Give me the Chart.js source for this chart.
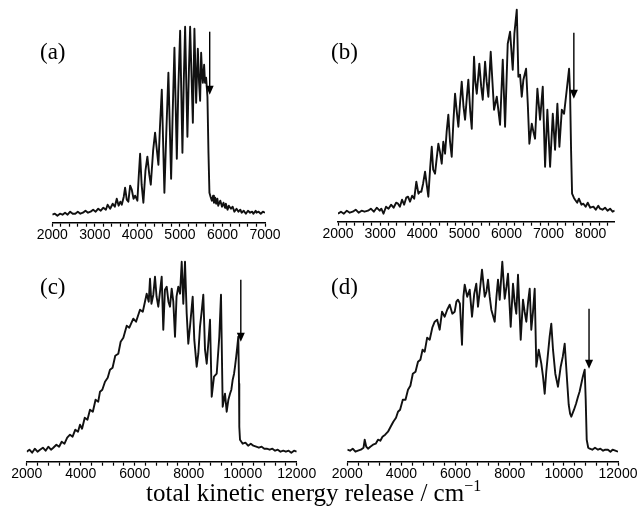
<!DOCTYPE html>
<html>
<head>
<meta charset="utf-8">
<script src="https://cdn.jsdelivr.net/npm/chart.js@4.4.0/dist/chart.umd.min.js"></script>
<style>
  body { margin: 0; background: #fff; }
  #page { position: relative; width: 638px; height: 515px; overflow: hidden; }
  canvas { position: absolute; left: 0; top: 0; }
  .tag { position: absolute; font-family: "Liberation Serif", "Times New Roman", serif; font-size: 23px; line-height: 1; color: #000; }
  #title { position: absolute; left: 146px; top: 480px; white-space: nowrap; font-family: "Liberation Serif", "Times New Roman", serif; font-size: 25px; line-height: 1; color: #000; }
  #title sup { font-size: 16px; vertical-align: 10px; line-height: 0; }
</style>
</head>
<body>
<div id="page">
  <canvas id="ca" width="638" height="515"></canvas>
  <canvas id="cb" width="638" height="515"></canvas>
  <canvas id="cc" width="638" height="515"></canvas>
  <canvas id="cd" width="638" height="515"></canvas>
  <div class="tag" style="left:40px; top:40px">(a)</div>
  <div class="tag" style="left:331px; top:40px">(b)</div>
  <div class="tag" style="left:40px; top:275px">(c)</div>
  <div class="tag" style="left:331px; top:275px">(d)</div>
  <div id="title">total kinetic energy release / cm<sup>−1</sup></div>
</div>
<script>
// energies in cm-1, signal in arbitrary units
const aEnergy = [
  2000,2060,2120,2180,2240,2300,2360,2420,2480,2540,
  2600,2660,2720,2780,2840,2900,2960,3020,3080,3140,
  3200,3260,3300,3360,3420,3470,3515,3560,3600,3633,
  3680,3711,3750,3788,3830,3868,3910,3946,4000,4030,
  4064,4100,4141,4190,4235,4280,4315,4370,4416,4450,
  4494,4530,4574,4635,4680,4729,4793,4830,4871,4927,
  4960,5005,5059,5090,5122,5176,5210,5240,5304,5341,
  5381,5421,5450,5475,5499,5520,5539,5569,5590,5616,
  5647,5671,5694,5720,5751,5780,5800,5830,5850,5880,
  5900,5950,5990,6024,6060,6080,6120,6150,6200,6240,
  6280,6330,6376,6420,6450,6500,6550,6600,6650,6700,
  6728,6780,6800,6850,6900,6950,7000
];
const aSignal = [
  8,9,7,9,8,10,8,11,9,9,
  11,9,10,12,10,11,13,11,14,12,
  15,13,18,14,19,16,24,17,21,18,
  26,35,23,21,37,33,24,27,22,45,
  69,38,20,52,66,48,38,72,90,76,
  58,95,133,30,90,150,44,110,175,64,
  130,192,70,140,196,86,150,196,100,194,
  120,174,140,122,170,150,140,158,140,145,
  126,70,30,26,22,27,20,25,19,24,
  17,22,16,20,15,19,13,17,14,16,
  11,14,11,13,10,12,9,12,10,11,
  9,12,10,11,9,11,10
];

const bEnergy = [
  2000,2070,2140,2210,2280,2350,2420,2490,2560,2630,
  2713,2780,2850,2920,2990,3029,3080,3140,3200,3260,
  3320,3380,3425,3470,3520,3570,3620,3663,3710,3760,
  3810,3860,3910,3948,3979,4020,4067,4110,4145,4190,
  4226,4260,4304,4340,4383,4420,4463,4500,4542,4580,
  4620,4660,4700,4740,4779,4820,4858,4900,4938,4980,
  5017,5060,5095,5140,5176,5230,5260,5295,5356,5400,
  5437,5492,5530,5570,5626,5705,5770,5848,5912,5967,
  6030,6086,6149,6188,6245,6283,6323,6363,6402,6466,
  6506,6544,6601,6640,6679,6734,6798,6862,6917,6971,
  7036,7100,7154,7209,7257,7314,7368,7432,7487,7511,
  7534,7558,7600,7629,7680,7720,7780,7827,7880,7930,
  7990,8064,8120,8180,8223,8280,8340,8400,8460,8520,8570
];
const bSignal = [
  8,10,8,11,9,10,12,9,11,10,
  11,13,10,14,11,13,8,15,13,17,
  14,19,18,15,22,17,24,25,20,26,
  23,40,28,30,30,38,50,36,25,55,
  75,52,48,62,78,70,58,80,68,90,
  107,80,65,100,128,110,95,120,140,115,
  102,125,142,110,93,165,140,128,158,135,
  122,160,140,125,170,112,125,97,162,95,
  178,190,152,188,212,145,147,125,142,153,
  118,78,98,90,83,133,102,135,55,112,
  55,108,72,118,75,112,108,132,153,128,
  72,28,24,22,19,23,17,18,15,19,
  14,15,12,16,13,12,14,11,13,10,11
];

const cEnergy = [
  2000,2100,2200,2300,2400,2493,2600,2700,2800,2900,
  2985,3100,3200,3296,3400,3500,3604,3700,3800,3900,
  3974,4050,4150,4250,4344,4450,4550,4650,4715,4800,
  4900,5000,5085,5180,5280,5393,5480,5580,5704,5800,
  5948,6050,6196,6300,6444,6520,6567,6620,6689,6752,
  6810,6874,6937,7000,7059,7120,7185,7250,7307,7370,
  7430,7493,7550,7615,7680,7741,7800,7863,7926,7985,
  8048,8148,8207,8296,8356,8419,8480,8541,8604,8667,
  8730,8789,8852,8937,9037,9133,9196,9259,9344,9407,
  9470,9530,9580,9630,9680,9715,9760,9800,9837,9863,
  9874,9900,9950,10000,10100,10200,10300,10393,10500,10600,
  10700,10800,10889,11000,11100,11200,11300,11400,11504,11600,
  11700,11800,11900,12000
];
const cSignal = [
  10,12,9,13,10,12,14,11,15,12,
  14,17,15,20,18,24,27,25,32,30,
  37,33,44,42,52,50,62,60,70,72,
  80,84,92,94,106,108,120,124,136,134,
  143,140,152,150,168,160,183,158,167,185,
  165,155,170,185,132,172,175,160,155,173,
  160,125,165,175,168,200,158,200,148,118,
  135,165,122,95,108,135,150,167,112,98,
  120,142,65,85,88,125,167,55,68,50,
  62,68,72,82,88,95,105,115,125,78,
  35,22,20,18,19,16,18,16,15,14,
  15,13,13,12,13,11,12,10,11,10,
  11,9,11,10
];

const dEnergy = [
  2000,2100,2200,2300,2395,2500,2600,2643,2700,2765,
  2850,2950,3050,3134,3220,3300,3400,3503,3600,3700,
  3800,3873,3950,4050,4150,4242,4330,4420,4520,4612,
  4700,4780,4859,4950,5044,5140,5229,5320,5413,5500,
  5598,5690,5783,5880,5968,6030,6089,6160,6237,6290,
  6337,6430,6521,6607,6690,6765,6828,6900,6976,7076,
  7140,7198,7260,7320,7445,7510,7567,7630,7726,7815,
  7880,7937,8036,8121,8180,8243,8306,8406,8490,8550,
  8613,8680,8738,8797,8860,8923,8982,9071,9167,9230,
  9292,9350,9414,9475,9536,9599,9684,9783,9883,9960,
  10031,10127,10179,10230,10275,10375,10450,10522,10580,10644,
  10700,10770,10807,10844,10900,10955,11050,11150,11262,11350,
  11450,11530,11630,11720,11800,11900,12000
];
const dSignal = [
  12,11,13,10,11,12,14,22,15,13,
  15,17,18,22,21,25,27,30,35,40,
  44,50,52,62,62,72,76,88,90,100,
  102,112,110,124,122,134,140,142,132,150,
  145,152,157,148,150,160,162,158,117,165,
  177,165,172,145,168,178,155,172,192,165,
  170,182,165,152,140,165,182,162,200,163,
  175,188,135,178,160,148,187,122,162,150,
  140,160,173,132,150,173,95,112,98,85,
  68,90,108,125,138,112,88,75,95,105,
  118,78,57,48,45,52,58,65,70,78,
  85,92,62,22,14,13,12,14,12,13,
  11,12,12,10,12,11,10
];

// threshold arrows: energy, top of shaft, tip (signal units)
const arrowEnergy = [5700, 7600, 9930, 10930];
const arrowTop = [191, 189, 182, 153];
const arrowTip = [128, 123, 120, 93];

const AXIS_H = 24;

const panels = [
  { id: 'ca', energy: aEnergy, signal: aSignal, xMin: 2000, xMax: 7000, minor: 200, major: 1000, yMax: 200,
    left: 52.3, right: 265, top: 22.7, bottom: 222.7 },
  { id: 'cb', energy: bEnergy, signal: bSignal, xMin: 2000, xMax: 8570, minor: 200, major: 1000, yMax: 220,
    left: 338, right: 614.7, top: 1.7, bottom: 221.7 },
  { id: 'cc', energy: cEnergy, signal: cSignal, xMin: 2000, xMax: 12000, minor: 400, major: 2000, yMax: 215,
    left: 26.7, right: 296.7, top: 246.7, bottom: 461.7 },
  { id: 'cd', energy: dEnergy, signal: dSignal, xMin: 2000, xMax: 12000, minor: 400, major: 2000, yMax: 215,
    left: 347.3, right: 618, top: 246.7, bottom: 461.7 },
];

function arrowPlugin(i) {
  return {
    id: 'arrow' + i,
    afterDatasetsDraw(chart) {
      const ctx = chart.ctx;
      const x = chart.scales.x.getPixelForValue(arrowEnergy[i]);
      const y0 = chart.scales.y.getPixelForValue(arrowTop[i]);
      const y1 = chart.scales.y.getPixelForValue(arrowTip[i]);
      ctx.save();
      ctx.strokeStyle = '#000';
      ctx.fillStyle = '#000';
      ctx.lineWidth = 1.4;
      ctx.beginPath();
      ctx.moveTo(x, y0);
      ctx.lineTo(x, y1 - 8);
      ctx.stroke();
      ctx.beginPath();
      ctx.moveTo(x - 4, y1 - 9);
      ctx.lineTo(x + 4, y1 - 9);
      ctx.lineTo(x, y1);
      ctx.closePath();
      ctx.fill();
      ctx.restore();
    }
  };
}

panels.forEach((p, i) => {
  new Chart(document.getElementById(p.id), {
    type: 'line',
    data: {
      datasets: [{
        data: p.energy.map((e, k) => ({ x: e, y: p.signal[k] })),
        borderColor: '#111',
        borderWidth: 1.9,
        borderJoinStyle: 'round',
        pointRadius: 0,
        tension: 0,
        fill: false,
      }]
    },
    options: {
      responsive: false,
      animation: false,
      devicePixelRatio: 1,
      layout: {
        padding: { left: p.left, right: 638 - p.right, top: p.top, bottom: 515 - p.bottom - AXIS_H }
      },
      plugins: { legend: { display: false }, tooltip: { enabled: false } },
      scales: {
        x: {
          type: 'linear',
          min: p.xMin,
          max: p.xMax,
          afterFit: (scale) => { scale.height = AXIS_H; },
          afterBuildTicks: (scale) => {
            const t = [];
            for (let v = p.xMin; v <= p.xMax; v += p.minor) t.push({ value: v });
            scale.ticks = t;
          },
          border: { display: true, color: '#000', width: 1.5 },
          grid: { drawOnChartArea: false, drawTicks: true, tickLength: 4, tickColor: '#000', tickWidth: 1.2 },
          ticks: {
            autoSkip: false,
            maxRotation: 0,
            padding: 0,
            color: '#000',
            font: { family: '"Liberation Sans", Arial, sans-serif', size: 14 },
            callback: (v) => (Math.round(v) % p.major === 0 ? String(Math.round(v)) : '')
          }
        },
        y: { display: false, min: 0, max: p.yMax }
      }
    },
    plugins: [arrowPlugin(i)]
  });
});
</script>
</body>
</html>
